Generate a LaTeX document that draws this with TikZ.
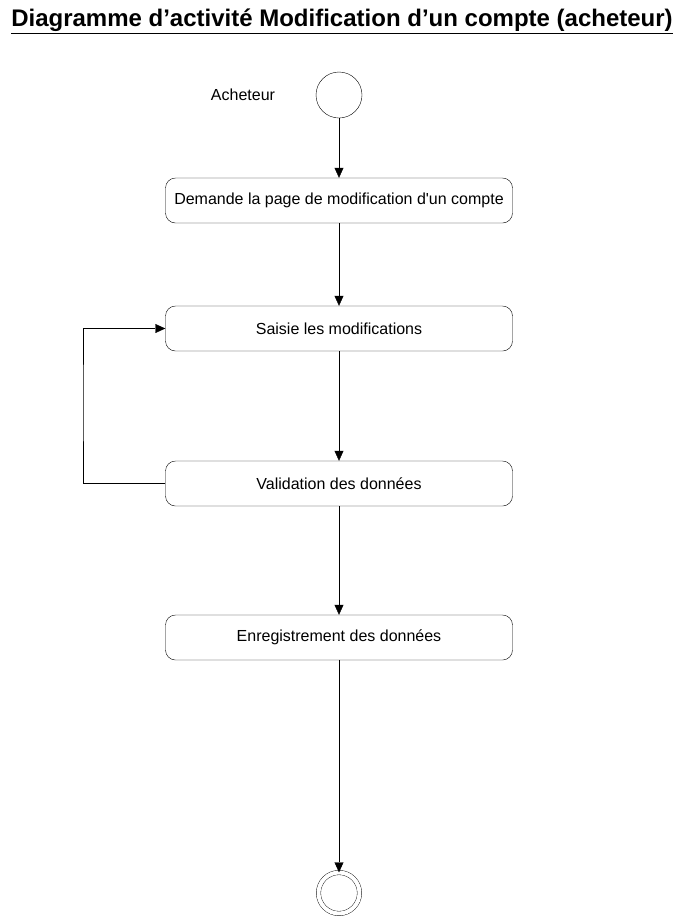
\documentclass[tikz,border=0pt]{standalone}
\usepackage{fontspec}
\setmainfont{Liberation Sans}
\usetikzlibrary{positioning,arrows.meta}
\begin{document}
\begin{tikzpicture}%
[x=1pt,y=-1pt,>={Triangle[length=10pt,width=9pt]},%
etat/.style={draw, rounded corners=10pt, minimum width=347pt, minimum height=45pt, font=\fontsize{16}{19}\selectfont},%
debut/.style={draw, circle, minimum size=46pt, inner sep=0pt},%
fin/.style={draw, circle, double, double distance=4pt, minimum size=41pt, inner sep=0pt}]

\useasboundingbox (0,0) rectangle (685,919);

\node (titre) at (342,21) {\fontsize{24}{27}\selectfont\bfseries\underline{Diagramme d’activité Modification d’un compte (acheteur)}};

\node[debut] (init) at (339,95) {};
\node[font=\fontsize{16}{19}\selectfont] (acteur) at (243,95) {Acheteur};

\node[etat] (demande) at (339,200.5) {Demande la page de modification d\textquotesingle un compte};
\node[etat] (saisie) at (339,328.5) {Saisie les modifications};
\node[etat] (valid) at (339,483.5) {Validation des données};
\node[etat] (enreg) at (339,637.5) {Enregistrement des données};

\node[fin] (final) at (339,893) {};

\draw[->] (init) -- (demande);
\draw[->] (demande) -- (saisie);
\draw[->] (saisie) -- (valid);
\draw[->] (valid) -- (enreg);
\draw[->] (enreg) -- (final);
\draw[->] (valid.west) -| (83,400) |- (saisie.west);
\end{tikzpicture}
\end{document}
